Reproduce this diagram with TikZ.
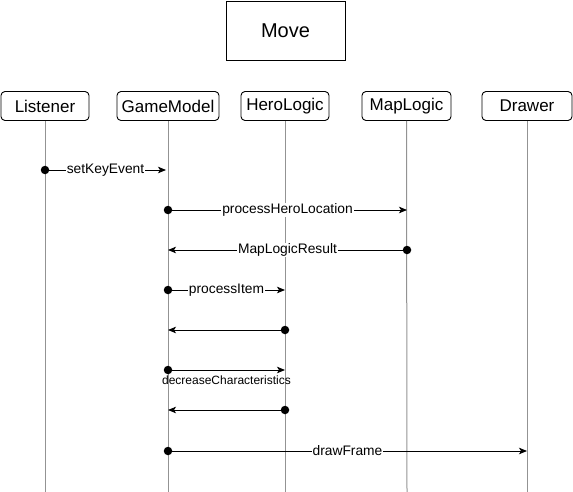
\documentclass[tikz,border=0pt]{standalone}
\usepackage{fontspec}
\setmainfont{Liberation Sans}
\usetikzlibrary{arrows.meta}
\begin{document}
\begin{tikzpicture}[x=1pt,y=-1pt,
  actor/.style={draw,line width=0.9pt,rounded corners=4pt,minimum height=29pt,inner sep=0pt,font=\fontsize{17}{20}\selectfont},
  lifeline/.style={draw=gray!85,line width=1pt},
  msg/.style={line width=0.9pt,-{Stealth[length=8pt,width=6.5pt,inset=2pt]}},
  dot/.style={circle,fill=black,inner sep=0pt,minimum size=8.5pt},
  lbl/.style={fill=white,inner sep=1pt,font=\fontsize{13.8}{16}\selectfont}]
\useasboundingbox (0,0) rectangle (573,492);
\node[draw,line width=0.9pt,minimum width=119pt,minimum height=59pt,font=\fontsize{20}{24}\selectfont] (title) at (285.5,30.5) {Move};
\node[actor,minimum width=88pt] (L) at (45,106) {Listener};
\node[actor,minimum width=102pt] (G) at (168,106) {GameModel};
\node[actor,minimum width=88pt] (H) at (285,106) {HeroLogic};
\node[actor,minimum width=89pt] (M) at (406.5,106) {MapLogic};
\node[actor,minimum width=90pt] (D) at (527,106) {Drawer};
\foreach \n/\x in {L/45,G/168,H/285,M/407,D/527}{
  \coordinate (\n b) at (\x,492);
  \draw[lifeline] (\n.south) -- (\n b);
}
% message anchor points
\coordinate (L1) at (45,170); \coordinate (G1) at (166,170);
\coordinate (G2) at (168,210); \coordinate (M2) at (407,210);
\coordinate (M3) at (407,250); \coordinate (G3) at (168,250);
\coordinate (G4) at (168,290); \coordinate (H4) at (285,290);
\coordinate (H5) at (285,330); \coordinate (G5) at (168,330);
\coordinate (G6) at (168,370); \coordinate (H6) at (285,370);
\coordinate (H7) at (285,410); \coordinate (G7) at (168,410);
\coordinate (G8) at (168,451); \coordinate (D8) at (527,451);
\draw[msg] (L1) -- node[lbl] {setKeyEvent} (G1);
\draw[msg] (G2) -- node[lbl] {processHeroLocation} (M2);
\draw[msg] (M3) -- node[lbl] {MapLogicResult} (G3);
\draw[msg] (G4) -- node[lbl] {processItem} (H4);
\draw[msg] (H5) -- (G5);
\draw[msg] (G6) -- node[inner sep=0pt,below=5pt,font=\fontsize{12}{14}\selectfont] {decreaseCharacteristics} (H6);
\draw[msg] (H7) -- (G7);
\draw[msg] (G8) -- node[lbl] {drawFrame} (D8);
\foreach \p in {L1,G2,M3,G4,H5,G6,H7,G8}
  \node[dot] (d\p) at (\p) {};
\end{tikzpicture}
\end{document}
